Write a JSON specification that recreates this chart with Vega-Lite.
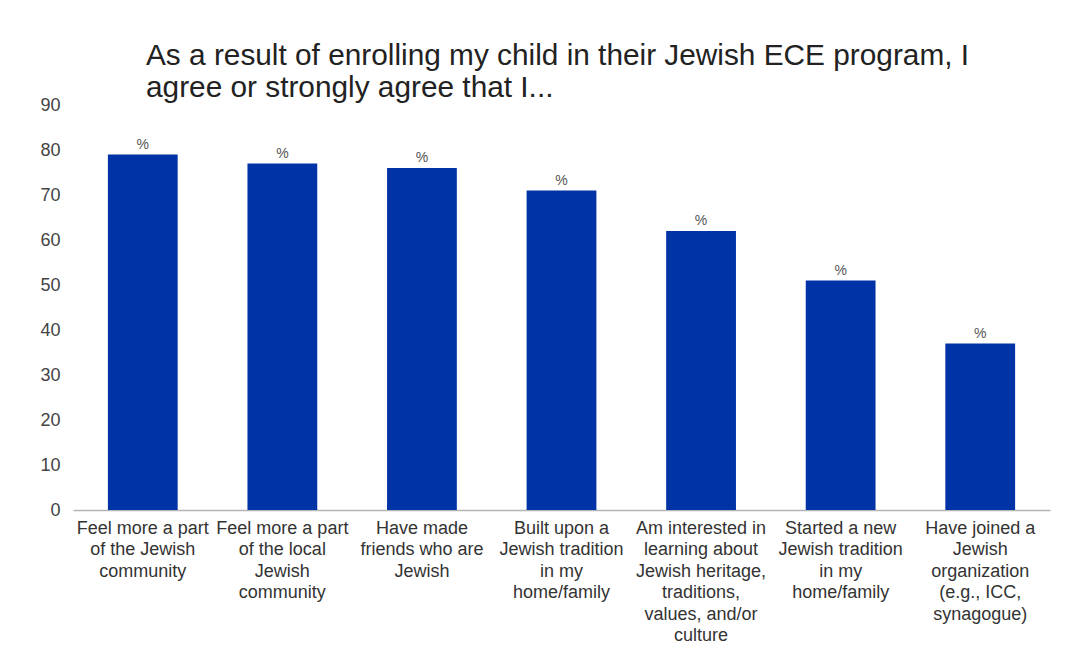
{
  "$schema": "https://vega.github.io/schema/vega-lite/v6.json",
  "autosize": "none",
  "width": 977,
  "height": 405,
  "padding": {"left": 73, "top": 105, "right": 16, "bottom": 155},
  "background": "white",
  "title": {
    "text": ["As a result of enrolling my child in their Jewish ECE program, I", "agree or strongly agree that I..."],
    "anchor": "start",
    "frame": "group",
    "dx": 73,
    "offset": -7,
    "font": "Liberation Sans",
    "fontSize": 29.8,
    "fontWeight": "normal",
    "color": "#222222",
    "lineHeight": 32
  },
  "data": {
    "values": [
      {"item": "Feel more a part|of the Jewish|community", "pct": 79},
      {"item": "Feel more a part|of the local|Jewish|community", "pct": 77},
      {"item": "Have made|friends who are|Jewish", "pct": 76},
      {"item": "Built upon a|Jewish tradition|in my|home/family", "pct": 71},
      {"item": "Am interested in|learning about|Jewish heritage,|traditions,|values, and/or|culture", "pct": 62},
      {"item": "Started a new|Jewish tradition|in my|home/family", "pct": 51},
      {"item": "Have joined a|Jewish|organization|(e.g., ICC,|synagogue)", "pct": 37}
    ]
  },
  "encoding": {
    "x": {
      "field": "item",
      "type": "nominal",
      "sort": null,
      "scale": {"paddingInner": 0.5, "paddingOuter": 0.25},
      "axis": {
        "title": null,
        "labelAngle": 0,
        "labelExpr": "split(datum.label, '|')",
        "labelFont": "Liberation Sans",
        "labelFontSize": 18,
        "labelColor": "#333333",
        "labelLineHeight": 21.5,
        "labelPadding": 9,
        "labelLimit": 300,
        "labelBaseline": "top",
        "ticks": false,
        "domainColor": "#b5b5b5",
        "domainWidth": 1.5,
        "labelOverlap": false
      }
    },
    "y": {
      "field": "pct",
      "type": "quantitative",
      "scale": {"domain": [0, 90]},
      "axis": {
        "title": null,
        "values": [0, 10, 20, 30, 40, 50, 60, 70, 80, 90],
        "grid": false,
        "domain": false,
        "ticks": false,
        "labelFont": "Liberation Sans",
        "labelFontSize": 18,
        "labelColor": "#444444",
        "labelPadding": 13
      }
    }
  },
  "layer": [
    {"mark": {"type": "bar", "color": "#0033A6"}},
    {
      "mark": {"type": "text", "text": "%", "baseline": "bottom", "dy": -3, "font": "Liberation Sans", "fontSize": 14, "color": "#555555"}
    }
  ],
  "config": {"view": {"stroke": null}}
}
